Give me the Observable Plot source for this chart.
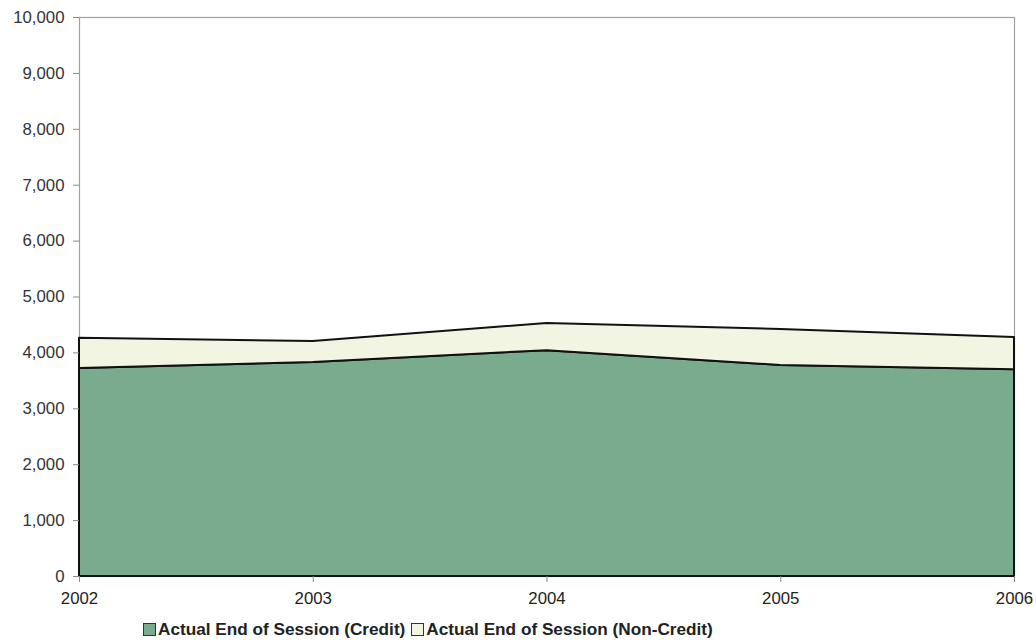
<!DOCTYPE html>
<html>
<head>
<meta charset="utf-8">
<script src="https://cdn.jsdelivr.net/npm/d3@7"></script>
<script src="https://cdn.jsdelivr.net/npm/@observablehq/plot@0.6"></script>
<style>
  html, body { margin: 0; padding: 0; background: #fff; }
  #chart { position: relative; width: 1036px; height: 642px; font-family: Arial, "Liberation Sans", sans-serif; }
  #legend { position: absolute; left: 143px; top: 619px; font-size: 17.2px; font-weight: bold; color: #222; white-space: nowrap; display: flex; align-items: center; }
  .sw { display: inline-block; width: 11px; height: 11px; border: 1.5px solid #333; margin-right: 2px; }
  .item { display: inline-flex; align-items: center; margin-right: 6px; }
</style>
</head>
<body>
<div id="chart"></div>
<script>
const years = [2002, 2003, 2004, 2005, 2006];
const credit = [3720, 3830, 4040, 3775, 3700];
const nonCredit = [540, 375, 485, 645, 575];
const seriesNames = ["Actual End of Session (Credit)", "Actual End of Session (Non-Credit)"];
const seriesColors = ["#79ac8e", "#f3f5e3"];
const yTicks = [0, 1000, 2000, 3000, 4000, 5000, 6000, 7000, 8000, 9000, 10000];

const data = [];
years.forEach((yr, i) => {
  data.push({year: yr, series: seriesNames[0], value: credit[i]});
  data.push({year: yr, series: seriesNames[1], value: nonCredit[i]});
});

const plot = Plot.plot({
  width: 1036,
  height: 615,
  marginLeft: 79,
  marginRight: 22,
  marginTop: 17,
  marginBottom: 39,
  style: {fontFamily: "Arial, 'Liberation Sans', sans-serif", fontSize: "16.8px", color: "#333", background: "#fff"},
  x: {domain: [2002, 2006], ticks: years, tickFormat: d => String(d), label: null, tickSize: 6, tickPadding: 10},
  y: {domain: [0, 10000], ticks: yTicks, tickFormat: d3.format(","), label: null, tickSize: 6, tickPadding: 9},
  color: {domain: seriesNames, range: seriesColors},
  marks: [
    Plot.frame({stroke: "#a0a0a0", strokeWidth: 1.2}),
    Plot.areaY(data, {x: "year", y: "value", z: "series", fill: "series", order: seriesNames, stroke: "#111", strokeWidth: 2, strokeLinejoin: "round"}),
    Plot.axisY({ticks: yTicks, tickFormat: d3.format(","), tickSize: 6, tickPadding: 9, stroke: "#888", fill: "#333", label: null}),
    Plot.axisX({ticks: years, tickFormat: d => String(d), tickSize: 6, tickPadding: 10, stroke: "#888", fill: "#222", label: null})
  ]
});

const chart = document.getElementById("chart");
chart.appendChild(plot);

const legend = document.createElement("div");
legend.id = "legend";
seriesNames.forEach((name, i) => {
  const item = document.createElement("span");
  item.className = "item";
  const sw = document.createElement("span");
  sw.className = "sw";
  sw.style.background = seriesColors[i];
  item.appendChild(sw);
  item.appendChild(document.createTextNode(name));
  legend.appendChild(item);
});
chart.appendChild(legend);
</script>
</body>
</html>
